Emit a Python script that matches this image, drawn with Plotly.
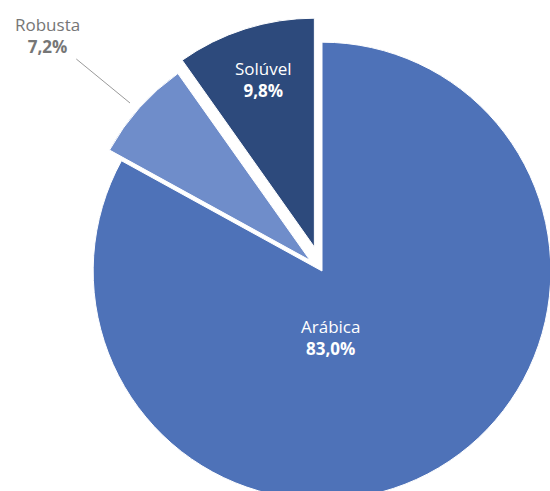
import plotly.graph_objects as go

# dados do gráfico
categorias = ["Arábica", "Robusta", "Solúvel"]
valores = [83.0, 7.2, 9.8]
rotulos_pct = ["83,0%", "7,2%", "9,8%"]

# estilo
cores = ["#4E72B8", "#6F8DCA", "#2D4A7C"]
destaque = [0, 0.07, 0.11]

W, H = 600, 540


def px(x, y):
    # pixel da janela -> coordenadas "paper"
    return x / W, 1 - y / H


fig = go.Figure(go.Pie(
    labels=categorias,
    values=valores,
    sort=False,
    direction="clockwise",
    rotation=0,
    pull=destaque,
    marker=dict(colors=cores, line=dict(color="white", width=1)),
    textinfo="none",
    hoverinfo="label+percent",
    domain=dict(x=[68 / W, 576 / W], y=[1 - 525 / H, 1 - 17 / H]),
    showlegend=False,
))

fonte = "Open Sans, Segoe UI, sans-serif"

# Arábica (dentro)
x, y = px(330, 337)
fig.add_annotation(x=x, y=y, xref="paper", yref="paper", showarrow=False,
                   text=f"{categorias[0]}<br><b>{rotulos_pct[0]}</b>",
                   font=dict(family=fonte, size=17, color="white"))

# Solúvel (dentro)
x, y = px(263, 55)
fig.add_annotation(x=x, y=y, xref="paper", yref="paper", showarrow=False,
                   text=f"{categorias[2]}<br><b>{rotulos_pct[2]}</b>",
                   font=dict(family=fonte, size=17, color="white"))

# Robusta (fora, com linha)
x, y = px(130, 103)
fig.add_annotation(x=x, y=y, xref="paper", yref="paper",
                   showarrow=True, arrowhead=0, arrowwidth=1, arrowcolor="#9a9a9a",
                   ax=47 - 130, ay=35 - 103,
                   text=f"{categorias[1]}<br><b>{rotulos_pct[1]}</b>",
                   font=dict(family=fonte, size=17, color="#767676"))

fig.update_layout(
    width=W, height=H,
    margin=dict(l=0, r=0, t=0, b=0),
    paper_bgcolor="white",
    plot_bgcolor="white",
)

fig.write_html("out.html",
               config={"displayModeBar": False},
               post_script="document.body.style.margin='0';document.body.style.overflow='hidden';")
